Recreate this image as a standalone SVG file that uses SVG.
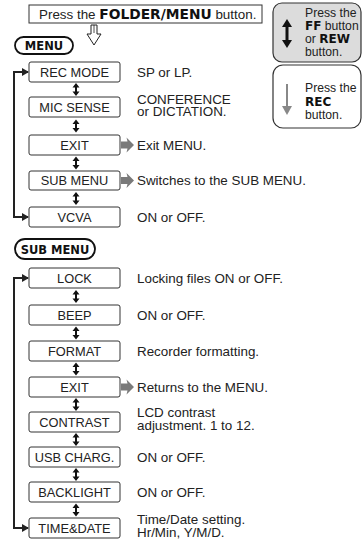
<svg xmlns="http://www.w3.org/2000/svg" width="363" height="542" viewBox="0 0 363 542">
<defs>
<style>
.bx{fill:#fff;stroke:#333;stroke-width:1}
.lb{font-family:"Liberation Sans",Arial,sans-serif;font-size:12.8px;fill:#222;text-anchor:middle}
.ds{font-family:"Liberation Sans",Arial,sans-serif;font-size:13.4px;fill:#222}
.lg{font-family:"Liberation Sans",Arial,sans-serif;font-size:12.2px;fill:#222}
.bd{font-family:"DejaVu Sans",sans-serif;font-weight:bold;fill:#111}
.pill{fill:#fff;stroke:#111;stroke-width:1.8}
.loop{fill:none;stroke:#222;stroke-width:2}
.ga{fill:#7a7a7a}
</style>
<g id="dbl">
<path d="M0,-4 L0,4" stroke="#111" stroke-width="2"/>
<path d="M-3.5,-2 L0,-6.5 L3.5,-2 Z M-3.5,2 L0,6.5 L3.5,2 Z" fill="#111"/>
</g>
<path id="gar" d="M0,4 L6.5,4 L5.5,0 L13,7.5 L5.5,15 L6.5,11 L0,11 Z"/>
</defs>

<!-- top instruction -->
<g id="top">
<rect x="29" y="5" width="233" height="18" class="bx"/>
<text x="39" y="19" class="ds">Press the <tspan class="bd" font-size="13.8">FOLDER/MENU</tspan> button.</text>
<path d="M91,25 L97,25 L97,34 L101,34 L94,45 L87,34 L91,34 Z" fill="#fff" stroke="#222" stroke-width="1"/>
<path d="M94,25 L94,33" stroke="#222" stroke-width="0.8"/>
</g>

<!-- legend -->
<g id="legend-ff">
<rect x="273" y="3" width="88" height="59" rx="9" fill="#dcdcdc" stroke="#333" stroke-width="1.2"/>
<path d="M287,25 L287,42" stroke="#111" stroke-width="3"/>
<path d="M282,27 L287,19 L292,27 Z M282,40 L287,48 L292,40 Z" fill="#111"/>
<text class="lg" x="305" y="17">Press the</text>
<text class="lg" x="305" y="30"><tspan class="bd" font-size="12">FF</tspan> button</text>
<text class="lg" x="305" y="43">or <tspan class="bd" font-size="12">REW</tspan></text>
<text class="lg" x="305" y="56">button.</text>
</g>
<g id="legend-rec">
<rect x="273" y="65" width="88" height="63" rx="10" fill="#fff" stroke="#333" stroke-width="1.2"/>
<path d="M287,84 L287,108" stroke="#888" stroke-width="2"/>
<path d="M282,106 L287,115 L292,106 Z" fill="#888"/>
<text class="lg" x="305" y="92">Press the</text>
<text class="lg" x="305" y="105.5"><tspan class="bd" font-size="12">REC</tspan></text>
<text class="lg" x="305" y="119">button.</text>
</g>

<!-- MENU -->
<g id="menu-title">
<rect x="15" y="37" width="58" height="17" rx="8.5" class="pill"/>
<text x="44" y="50" class="bd" font-size="11.5" text-anchor="middle">MENU</text>
</g>

<g id="connectors">
<path d="M28,72 L14,72 L14,217 L28,217" class="loop"/>
<path d="M22,68 L29,72 L22,76 Z M22,213 L29,217 L22,221 Z" fill="#222"/>
<path d="M28,278 L14,278 L14,528 L28,528" class="loop"/>
<path d="M22,274 L29,278 L22,282 Z M22,524 L29,528 L22,532 Z" fill="#222"/>
<use href="#dbl" x="76" y="89.5"/>
<use href="#dbl" x="76" y="126"/>
<use href="#dbl" x="76" y="163"/>
<use href="#dbl" x="76" y="198.5"/>
<use href="#dbl" x="76" y="296.5"/>
<use href="#dbl" x="76" y="333"/>
<use href="#dbl" x="76" y="369"/>
<use href="#dbl" x="76" y="404.5"/>
<use href="#dbl" x="76" y="439.5"/>
<use href="#dbl" x="76" y="474.5"/>
<use href="#dbl" x="76" y="510"/>
<use href="#gar" class="ga" x="121" y="137.5"/>
<use href="#gar" class="ga" x="121" y="173"/>
<use href="#gar" class="ga" x="121" y="379.5"/>
</g>

<g id="rec-mode"><rect x="29" y="62" width="91" height="20" rx="2" class="bx"/><text x="74.5" y="76.5" class="lb">REC MODE</text><text x="137" y="76.5" class="ds">SP or LP.</text></g>
<g id="mic-sense"><rect x="29" y="97" width="91" height="20" rx="2" class="bx"/><text x="74.5" y="111.5" class="lb">MIC SENSE</text><text x="137" y="103.5" class="ds">CONFERENCE</text><text x="137" y="116" class="ds">or DICTATION.</text></g>
<g id="exit"><rect x="29" y="135" width="91" height="20" rx="2" class="bx"/><text x="74.5" y="149.5" class="lb">EXIT</text><text x="137" y="149.5" class="ds">Exit MENU.</text></g>
<g id="sub-menu"><rect x="29" y="171" width="91" height="19" rx="2" class="bx"/><text x="74.5" y="185" class="lb">SUB MENU</text><text x="137" y="185" class="ds">Switches to the SUB MENU.</text></g>
<g id="vcva"><rect x="29" y="207" width="91" height="20" rx="2" class="bx"/><text x="74.5" y="221.5" class="lb">VCVA</text><text x="137" y="221.5" class="ds">ON or OFF.</text></g>

<g id="sub-menu-title">
<rect x="15" y="239" width="80" height="20" rx="10" class="pill"/>
<text x="55" y="253.5" class="bd" font-size="11.5" text-anchor="middle">SUB MENU</text>
</g>

<g id="lock"><rect x="29" y="268" width="91" height="20" rx="2" class="bx"/><text x="74.5" y="282.5" class="lb">LOCK</text><text x="137" y="282.5" class="ds">Locking files ON or OFF.</text></g>
<g id="beep"><rect x="29" y="305" width="91" height="20" rx="2" class="bx"/><text x="74.5" y="319.5" class="lb">BEEP</text><text x="137" y="319.5" class="ds">ON or OFF.</text></g>
<g id="format"><rect x="29" y="341" width="91" height="20" rx="2" class="bx"/><text x="74.5" y="355.5" class="lb">FORMAT</text><text x="137" y="355.5" class="ds">Recorder formatting.</text></g>
<g id="exit2"><rect x="29" y="377" width="91" height="20" rx="2" class="bx"/><text x="74.5" y="391.5" class="lb">EXIT</text><text x="137" y="391.5" class="ds">Returns to the MENU.</text></g>
<g id="contrast"><rect x="29" y="412" width="91" height="20" rx="2" class="bx"/><text x="74.5" y="426.5" class="lb">CONTRAST</text><text x="137" y="417" class="ds">LCD contrast</text><text x="137" y="429.5" class="ds">adjustment. 1 to 12.</text></g>
<g id="usb-charg"><rect x="29" y="447" width="91" height="20" rx="2" class="bx"/><text x="74.5" y="461.5" class="lb">USB CHARG.</text><text x="137" y="461.5" class="ds">ON or OFF.</text></g>
<g id="backlight"><rect x="29" y="482" width="91" height="20" rx="2" class="bx"/><text x="74.5" y="496.5" class="lb">BACKLIGHT</text><text x="137" y="496.5" class="ds">ON or OFF.</text></g>
<g id="time-date"><rect x="29" y="518" width="91" height="20" rx="2" class="bx"/><text x="74.5" y="532.5" class="lb">TIME&amp;DATE</text><text x="137" y="524" class="ds">Time/Date setting.</text><text x="137" y="536.5" class="ds">Hr/Min, Y/M/D.</text></g>
</svg>
